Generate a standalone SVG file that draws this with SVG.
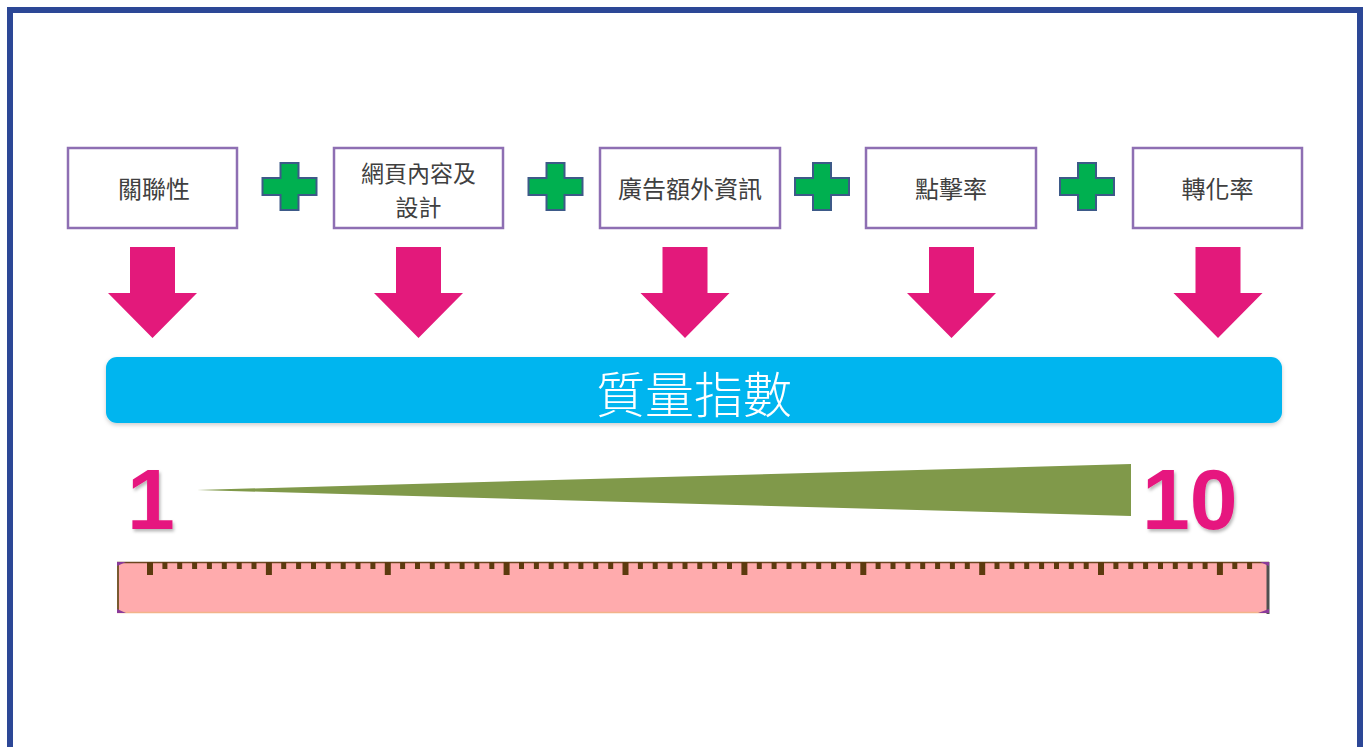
<svg xmlns="http://www.w3.org/2000/svg" width="1366" height="747" viewBox="0 0 1366 747">
<defs>
<style>
.box{fill:#fff;stroke:#8e6fb3;stroke-width:2.5}
.lbl{font-family:"Noto Sans CJK TC","Noto Sans CJK SC",sans-serif;font-size:24px;fill:#404040;text-anchor:middle}
.lbl2{font-family:"Noto Sans CJK TC","Noto Sans CJK SC",sans-serif;font-size:23px;fill:#404040;text-anchor:middle}
.plus{fill:#00b050;stroke:#3d5a88;stroke-width:2}
.arrow{fill:#e3197b}
.num{font-family:"Liberation Sans",Arial,sans-serif;font-weight:bold;font-size:86px;fill:#e6197f}
</style>
<filter id="sh" x="-10%" y="-10%" width="130%" height="140%">
<feDropShadow dx="1.5" dy="2.5" stdDeviation="1.8" flood-color="#000" flood-opacity="0.28"/>
</filter>
<filter id="sh2" x="-5%" y="-20%" width="110%" height="150%">
<feDropShadow dx="0" dy="2" stdDeviation="2" flood-color="#000" flood-opacity="0.2"/>
</filter>
</defs>
<rect x="0" y="0" width="1366" height="747" fill="#fff"/>
<rect x="10" y="10" width="1350" height="760" fill="none" stroke="#2c4796" stroke-width="6"/>

<g id="node-relevance">
<rect class="box" x="68" y="148" width="169" height="80"/>
<text class="lbl" x="154" y="198">關聯性</text>
</g>
<g id="node-page">
<rect class="box" x="334" y="148" width="169" height="80"/>
<text class="lbl2" x="418.5" y="182">網頁內容及</text>
<text class="lbl2" x="418.5" y="215.5">設計</text>
</g>
<g id="node-ext">
<rect class="box" x="600" y="148" width="180" height="80"/>
<text class="lbl" x="690" y="198">廣告額外資訊</text>
</g>
<g id="node-ctr">
<rect class="box" x="866" y="148" width="170" height="80"/>
<text class="lbl" x="951" y="198">點擊率</text>
</g>
<g id="node-cvr">
<rect class="box" x="1133" y="148" width="169" height="80"/>
<text class="lbl" x="1217.5" y="198">轉化率</text>
</g>

<g id="plus-signs">
<path class="plus" d="M280.5 163H298.5V178H316.5V195H298.5V210H280.5V195H262.5V178H280.5Z"/>
<path class="plus" d="M546.5 163H564.5V178H582.5V195H564.5V210H546.5V195H528.5V178H546.5Z"/>
<path class="plus" d="M813 163H831V178H849V195H831V210H813V195H795V178H813Z"/>
<path class="plus" d="M1078 163H1096V178H1114V195H1096V210H1078V195H1060V178H1078Z"/>
</g>

<g id="connectors">
<path class="arrow" d="M130 247H175V293H197L152.5 338L108 293H130Z"/>
<path class="arrow" d="M396 247H441V293H463L418.5 338L374 293H396Z"/>
<path class="arrow" d="M662.5 247H707.5V293H729.5L685 338L640.5 293H662.5Z"/>
<path class="arrow" d="M929 247H974V293H996L951.5 338L907 293H929Z"/>
<path class="arrow" d="M1195.5 247H1240.5V293H1262.5L1218 338L1173.5 293H1195.5Z"/>
</g>

<g id="node-quality">
<rect x="106" y="357" width="1176" height="66" rx="11" fill="#00b5ef" filter="url(#sh2)"/>
<text x="694" y="413" font-family="'Noto Sans CJK TC','Noto Sans CJK SC',sans-serif" font-size="49" font-weight="300" fill="#fff" text-anchor="middle">質量指數</text>
</g>

<g id="scale">
<text class="num" x="151" y="529" text-anchor="middle" filter="url(#sh)">1</text>
<text class="num" x="1142" y="529" filter="url(#sh)">10</text>
<polygon points="197,490 1131,464 1131,516" fill="#80994a"/>
</g>

<g id="ruler">
<rect x="117" y="562" width="1152" height="51" fill="#ffabad"/>
<line x1="117" y1="612.5" x2="1269" y2="612.5" stroke="#f2b48a" stroke-width="1.5"/>
<line x1="117" y1="562.5" x2="1269" y2="562.5" stroke="#6b4520" stroke-width="1.5"/>
<line x1="118" y1="562" x2="118" y2="613" stroke="#7a5a30" stroke-width="2"/>
<line x1="1268" y1="562" x2="1268" y2="614" stroke="#505050" stroke-width="3"/>
<polygon points="117,562 126,562 117,566" fill="#8a3a9a"/>
<polygon points="117,613 126,613 117,609" fill="#8a3a9a"/>
<polygon points="1269,562 1260,562 1269,566" fill="#8a3a9a"/>
<polygon points="1269,613 1258,613 1269,609" fill="#8a3a9a"/>
<path stroke="#5c3a0e" stroke-width="5" fill="none" d="M164.9 562v7M179.7 562v7M194.6 562v7M209.4 562v7M224.3 562v7M239.2 562v7M254 562v7M283.7 562v7M298.6 562v7M313.5 562v7M328.3 562v7M343.2 562v7M358 562v7M372.9 562v7M402.6 562v7M417.5 562v7M432.3 562v7M447.2 562v7M462.1 562v7M476.9 562v7M491.8 562v7M521.5 562v7M536.4 562v7M551.2 562v7M566.1 562v7M580.9 562v7M595.8 562v7M610.7 562v7M640.4 562v7M655.2 562v7M670.1 562v7M685 562v7M699.8 562v7M714.7 562v7M729.5 562v7M759.3 562v7M774.1 562v7M789 562v7M803.8 562v7M818.7 562v7M833.6 562v7M848.4 562v7M878.1 562v7M893 562v7M907.9 562v7M922.7 562v7M937.6 562v7M952.4 562v7M967.3 562v7M997 562v7M1011.9 562v7M1026.7 562v7M1041.6 562v7M1056.5 562v7M1071.3 562v7M1086.2 562v7M1115.9 562v7M1130.8 562v7M1145.6 562v7M1160.5 562v7M1175.3 562v7M1190.2 562v7M1205.1 562v7M1234.8 562v7M1249.6 562v7"/>
<path stroke="#5c3a0e" stroke-width="6" fill="none" d="M150 562v13M268.9 562v13M387.8 562v13M506.6 562v13M625.5 562v13M744.4 562v13M863.3 562v13M982.2 562v13M1101 562v13M1219.9 562v13"/>
</g>
</svg>
